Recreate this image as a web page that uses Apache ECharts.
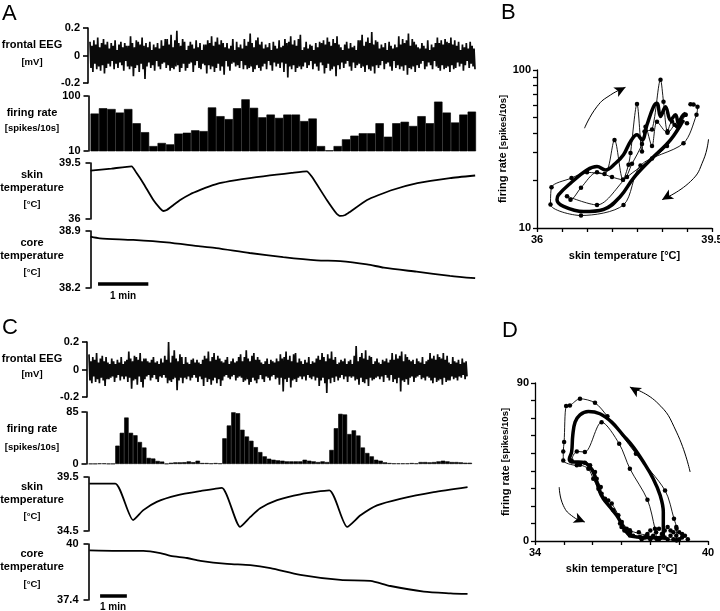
<!DOCTYPE html>
<html><head><meta charset="utf-8">
<script src="https://cdn.jsdelivr.net/npm/echarts@6/dist/echarts.min.js"></script>
<style>html,body{margin:0;padding:0;background:#fff}#c{width:720px;height:611px}</style>
</head><body><div id="c"></div>
<script>
// ---------- DATA ----------
const eegA = [
0.10,-0.09,0.07,-0.12,0.11,-0.06,0.08,-0.10,0.13,-0.08,0.06,-0.11,0.09,-0.07,0.12,-0.13,0.08,-0.09,0.10,-0.06,
0.05,-0.08,0.09,-0.04,0.07,-0.10,0.11,-0.06,0.04,-0.09,0.08,-0.05,0.10,-0.07,0.06,-0.11,0.09,-0.04,0.07,-0.08,
0.07,-0.10,0.14,-0.08,0.09,-0.15,0.06,-0.09,0.11,-0.07,0.10,-0.12,0.08,-0.06,0.13,-0.10,0.07,-0.17,0.09,-0.08,
0.06,-0.05,0.10,-0.09,0.04,-0.07,0.08,-0.11,0.06,-0.04,0.09,-0.08,0.05,-0.10,0.11,-0.06,0.07,-0.05,0.12,-0.09,
0.12,-0.07,0.08,-0.11,0.15,-0.09,0.06,-0.10,0.11,-0.08,0.18,-0.07,0.09,-0.12,0.07,-0.09,0.12,-0.06,0.10,-0.11,
0.04,-0.09,0.07,-0.06,0.10,-0.05,0.08,-0.12,0.05,-0.07,0.11,-0.04,0.06,-0.09,0.09,-0.10,0.04,-0.06,0.08,-0.07,
0.08,-0.13,0.11,-0.07,0.09,-0.10,0.14,-0.08,0.07,-0.12,0.10,-0.09,0.13,-0.06,0.08,-0.11,0.11,-0.08,0.09,-0.14,
0.06,-0.04,0.09,-0.08,0.05,-0.11,0.07,-0.06,0.12,-0.05,0.04,-0.08,0.10,-0.07,0.06,-0.09,0.08,-0.04,0.05,-0.10,
0.12,-0.07,0.07,-0.10,0.10,-0.09,0.16,-0.08,0.09,-0.12,0.06,-0.10,0.11,-0.07,0.13,-0.09,0.08,-0.11,0.10,-0.08,
0.05,-0.06,0.08,-0.10,0.06,-0.04,0.09,-0.07,0.04,-0.11,0.10,-0.05,0.07,-0.08,0.05,-0.06,0.11,-0.09,0.06,-0.05,
0.07,-0.12,0.12,-0.06,0.09,-0.16,0.10,-0.08,0.14,-0.10,0.08,-0.07,0.11,-0.12,0.07,-0.09,0.12,-0.08,0.15,-0.10,
0.04,-0.08,0.06,-0.05,0.10,-0.09,0.05,-0.07,0.08,-0.04,0.07,-0.10,0.04,-0.06,0.09,-0.08,0.06,-0.11,0.10,-0.05,
0.09,-0.07,0.11,-0.13,0.08,-0.09,0.13,-0.06,0.10,-0.11,0.07,-0.10,0.12,-0.08,0.09,-0.15,0.14,-0.07,0.08,-0.10,
0.06,-0.05,0.04,-0.09,0.08,-0.06,0.10,-0.04,0.05,-0.08,0.09,-0.11,0.06,-0.05,0.07,-0.09,0.04,-0.07,0.11,-0.06,
0.11,-0.09,0.15,-0.08,0.07,-0.12,0.10,-0.07,0.13,-0.10,0.09,-0.11,0.17,-0.08,0.08,-0.13,0.11,-0.07,0.10,-0.09,
0.05,-0.07,0.08,-0.04,0.06,-0.10,0.09,-0.06,0.04,-0.05,0.10,-0.08,0.07,-0.11,0.05,-0.04,0.08,-0.09,0.06,-0.07,
0.14,-0.10,0.08,-0.08,0.12,-0.11,0.09,-0.07,0.11,-0.14,0.16,-0.09,0.07,-0.10,0.12,-0.08,0.10,-0.12,0.08,-0.07,
0.06,-0.09,0.05,-0.06,0.09,-0.04,0.07,-0.10,0.05,-0.08,0.11,-0.05,0.04,-0.07,0.08,-0.10,0.06,-0.04,0.09,-0.08,
0.13,-0.09,0.09,-0.11,0.11,-0.07,0.08,-0.10,0.12,-0.09,0.10,-0.08,0.09,-0.12,0.13,-0.07,0.08,-0.10,0.11,-0.09,
0.07,-0.05,0.10,-0.08,0.04,-0.06,0.08,-0.11,0.06,-0.07,0.09,-0.04,0.05,-0.09,0.10,-0.06,0.07,-0.08,0.05,-0.10];
const eegC = [
0.11,-0.08,0.06,-0.10,0.09,-0.05,0.07,-0.09,0.12,-0.07,0.05,-0.10,0.08,-0.06,0.10,-0.08,0.06,-0.12,0.09,-0.07,
0.05,-0.07,0.04,-0.06,0.08,-0.05,0.06,-0.09,0.04,-0.06,0.07,-0.04,0.05,-0.08,0.09,-0.05,0.04,-0.07,0.06,-0.05,
0.07,-0.09,0.13,-0.06,0.08,-0.14,0.06,-0.08,0.10,-0.07,0.09,-0.11,0.07,-0.05,0.12,-0.09,0.06,-0.13,0.08,-0.07,
0.08,-0.05,0.06,-0.04,0.05,-0.08,0.07,-0.06,0.09,-0.04,0.05,-0.07,0.06,-0.09,0.04,-0.05,0.08,-0.06,0.05,-0.04,
0.10,-0.06,0.07,-0.10,0.20,-0.08,0.05,-0.09,0.10,-0.07,0.14,-0.06,0.08,-0.15,0.06,-0.08,0.11,-0.06,0.09,-0.10,
0.04,-0.06,0.09,-0.07,0.05,-0.05,0.04,-0.08,0.07,-0.06,0.08,-0.04,0.05,-0.06,0.07,-0.09,0.05,-0.05,0.04,-0.07,
0.07,-0.12,0.10,-0.06,0.08,-0.09,0.13,-0.07,0.06,-0.11,0.09,-0.08,0.12,-0.06,0.07,-0.10,0.10,-0.07,0.08,-0.12,
0.06,-0.08,0.05,-0.05,0.07,-0.04,0.09,-0.06,0.04,-0.07,0.06,-0.05,0.08,-0.04,0.05,-0.08,0.06,-0.06,0.09,-0.05,
0.11,-0.06,0.06,-0.09,0.09,-0.08,0.14,-0.07,0.08,-0.11,0.06,-0.09,0.10,-0.06,0.12,-0.08,0.07,-0.10,0.09,-0.07,
0.07,-0.04,0.05,-0.07,0.04,-0.09,0.06,-0.05,0.08,-0.06,0.04,-0.08,0.07,-0.05,0.06,-0.04,0.05,-0.07,0.08,-0.06,
0.06,-0.11,0.11,-0.06,0.08,-0.16,0.09,-0.07,0.13,-0.09,0.07,-0.06,0.10,-0.13,0.06,-0.08,0.11,-0.07,0.12,-0.09,
0.05,-0.06,0.08,-0.05,0.06,-0.07,0.04,-0.05,0.07,-0.08,0.05,-0.04,0.09,-0.06,0.04,-0.07,0.06,-0.05,0.05,-0.08,
0.08,-0.06,0.10,-0.12,0.07,-0.08,0.12,-0.06,0.09,-0.10,0.06,-0.17,0.11,-0.07,0.08,-0.10,0.13,-0.06,0.07,-0.09,
0.09,-0.05,0.04,-0.08,0.05,-0.06,0.07,-0.04,0.06,-0.07,0.08,-0.05,0.04,-0.09,0.06,-0.05,0.07,-0.06,0.04,-0.05,
0.10,-0.08,0.17,-0.07,0.06,-0.11,0.09,-0.06,0.12,-0.09,0.08,-0.10,0.14,-0.07,0.07,-0.12,0.10,-0.06,0.09,-0.08,
0.04,-0.07,0.06,-0.06,0.08,-0.05,0.05,-0.07,0.04,-0.05,0.07,-0.09,0.06,-0.04,0.08,-0.06,0.05,-0.08,0.07,-0.04,
0.12,-0.09,0.07,-0.07,0.11,-0.10,0.08,-0.06,0.10,-0.16,0.13,-0.08,0.06,-0.09,0.11,-0.07,0.09,-0.11,0.07,-0.06,
0.06,-0.05,0.07,-0.09,0.04,-0.06,0.08,-0.05,0.06,-0.04,0.05,-0.07,0.09,-0.06,0.04,-0.08,0.06,-0.05,0.07,-0.06,
0.12,-0.08,0.08,-0.10,0.10,-0.06,0.07,-0.09,0.11,-0.08,0.09,-0.07,0.08,-0.11,0.12,-0.06,0.07,-0.09,0.10,-0.08,
0.05,-0.08,0.04,-0.05,0.09,-0.07,0.06,-0.06,0.05,-0.08,0.07,-0.05,0.04,-0.06,0.08,-0.04,0.05,-0.07,0.06,-0.05];
// firing rate, 10 s bins (spikes/10s)
const rateA = [48,60,58,50,58,32,22,12.3,14,13.2,20.7,21.5,23.8,23,62,43,38,60,87,61,41,46,40,46,46,35,39,12.3,10.3,12.3,16.3,19,21,21,32,18.2,32,34,28.5,43,32,79,50,33,46,52];
const rateC = [0.5,0.5,1,1,0.5,0.5,30,51,76,51,47,36,27,10,9,5,4,0.5,2,2.7,
2.7,3,4.3,3,5.4,1.6,1.6,1,1.6,1,42,63,84.5,83,56,45,38,27.6,19.5,12.5,
8.7,7,6,5.4,4.3,4.3,4.3,4.3,7,5.4,4.3,3.2,4.3,3.2,23,58.5,82,81,49,55,
46.6,27,18,12.5,7,5.4,2.7,1.6,1,1,1,1,1.6,1,3.2,3.2,2.7,3.2,4.3,5.4,
4.3,3.2,3.2,2.7,2,2];
// [time s, °C]
const skinA = [[0,39.02],[25,39.15],[49,39.29],[55,38.87],[63,38.24],[75,37.19],[83,36.67],[87,36.5],[91,36.56],[99,36.88],[107,37.19],[119,37.55],[131,37.82],[142,38.04],[154,38.24],[172,38.42],[190,38.56],[206,38.67],[222,38.77],[240,38.88],[258,38.98],[264,38.65],[282,37.19],[294,36.31],[298,36.19],[304,36.25],[310,36.46],[330,37.19],[358,37.78],[390,38.24],[429,38.56],[459,38.72]];
const coreA = [[0,38.83],[11,38.81],[51,38.79],[91,38.76],[131,38.71],[150,38.69],[190,38.63],[230,38.58],[270,38.54],[298,38.53],[330,38.49],[350,38.45],[389,38.40],[429,38.35],[459,38.32]];
const skinC = [[2,38.89],[60,38.89],[100,35.51],[123,36.43],[153,37.2],[198,37.8],[251,38.2],[299,38.5],[340,34.88],[363,35.8],[385,36.6],[423,37.35],[475,37.9],[540,38.26],[580,34.88],[610,35.95],[647,36.87],[699,37.48],[774,38.1],[850,38.56]];
const coreC = [[2,39.70],[64,39.68],[123,39.68],[161,39.58],[184,39.45],[221,39.35],[251,39.22],[311,39.08],[363,39.02],[408,38.88],[475,38.57],[565,38.33],[632,38.29],[677,38.05],[752,37.79],[812,37.71],[850,37.68]];
const scaleBarA = [[9,38.25],[69,38.25]];
const scaleBarC = [[26,37.59],[86,37.59]];
// B: [skin °C, spikes/10s]
const bThick = [[38.93,48.3],[38.67,36.1],[38.27,27.0],[37.93,20.7],[37.67,15.9],[37.33,13.1],[36.93,12.7],[36.53,13.7],[36.4,15.1],[36.43,16.2],[36.67,19.2],[37.0,23.3],[37.2,24.5],[37.37,23.3],[37.57,25.7],[37.73,29.1],[37.87,35.3],[38.0,38.9],[38.1,36.1],[38.2,45],[38.33,58.6],[38.4,61.6],[38.47,50.8],[38.57,58.6],[38.67,48.3],[38.77,52],[38.83,46],[38.9,50.8],[38.97,53.2]];
const bThin1 = [[39.07,60.7],[39.13,60.5],[39.21,58.6],[39.19,52],[38.93,34.4],[38.07,24.9],[37.73,14.0],[36.88,12.0],[36.27,14.1],[36.29,18.1],[36.69,20.7],[37.0,22.5],[37.35,22],[37.55,36],[37.72,20.2],[37.83,25.1],[37.87,29.8],[38.0,61],[38.1,30.5],[38.15,40.8],[38.3,42],[38.47,86.6],[38.53,63],[38.61,41],[38.7,47.2],[38.8,44],[38.97,52]];
const bThin2 = [[38.97,52],[38.87,47],[38.6,33],[38.3,27.5],[37.8,21],[37.2,14.0],[36.6,15.9],[36.67,15.1],[36.88,18],[37.2,22.5],[37.5,21],[37.72,20.2],[37.9,25.5],[38.1,34],[38.17,43.8],[38.3,33],[38.4,47],[38.61,40],[38.75,45],[38.87,48],[39.0,46]];
const bArrowUp = [[36.95,42.8],[37.2,58.7],[37.47,69.5],[37.77,77.7]];
const bArrowDown = [[39.43,36.5],[39.33,27],[39.07,19.7],[38.5,15.1]];
// D
const dThick = [[38.45,1.3],[38.45,16.5],[38.34,26],[38.1,35.5],[37.76,45],[37.41,53.5],[37.06,60.2],[36.66,67.7],[36.25,72.5],[35.85,73.8],[35.56,71.9],[35.39,67.7],[35.31,60.2],[35.27,50.7],[35.19,46.5],[35.27,45],[35.5,45],[35.73,44.6],[35.9,42.1],[36.02,39.3],[36.14,33.6],[36.25,27.9],[36.37,24.1],[36.6,19.4],[36.83,14.6],[37.0,9.9],[37.12,6.1],[37.29,3.2],[37.53,2.3],[37.99,1.9],[38.45,1.9]];
const dThin1 = [[38.91,0.4],[38.91,7.0],[38.82,12.7],[38.51,28.8],[37.5,49.7],[36.51,71.0],[36.08,78.7],[35.56,81.0],[35.21,77.2],[35.08,76.9],[35.01,56.4],[34.98,51.0],[34.98,45.9],[35.45,43.1],[35.73,44.6],[35.91,43.1],[36.08,39.3],[36.14,35.5],[36.28,30.7],[36.31,26.9],[36.54,23.1],[36.66,21.3],[36.89,14.6],[36.95,9.9],[37.18,7.0],[37.29,3.2],[37.64,2.3],[38.22,1.3],[38.91,0.4]];
const dThin2 = [[38.22,1.3],[38.16,7.0],[37.9,23.5],[37.29,41.2],[36.92,55.4],[36.31,67.7],[35.73,50.7],[35.45,51.0],[35.27,45.9],[35.56,43.5],[35.85,41.2],[36.02,35.5],[36.2,29.8],[36.43,24.1],[36.72,17.5],[37.01,10.8],[37.29,6.1],[37.87,3.2],[38.34,1.9]];
const dCluster = [[37.0,8],[37.1,6],[37.3,5],[37.4,3],[37.6,5],[37.8,2],[37.9,4],[38.0,6],[38.1,3],[38.2,5],[38.3,7],[38.4,4],[38.5,2],[38.5,6],[38.6,8],[38.7,3],[38.7,6],[38.8,1],[38.8,5],[38.9,8],[38.9,3],[39.0,5],[39.0,1],[39.1,4],[39.1,2],[39.2,3],[39.3,1],[38.6,1],[38.3,1],[38.0,1],[37.7,1]];
const dArrowUp = [[39.38,39.3],[38.91,62],[38.22,79.1],[37.29,87.7]];
const dArrowDown = [[34.84,30.7],[34.98,20.3],[35.33,13.7],[35.73,10.8]];
// tick labels
const ticksEEG = [-0.2, 0, 0.2];
const ticksRateA = [10, 100];
const ticksSkinA = [36, 39.5];
const ticksCoreA = [38.2, 38.9];
const ticksRateC = [0, 85];
const ticksSkinC = [34.5, 39.5];
const ticksCoreC = [37.4, 40];
const ticksBx = [36, 39.5];
const ticksBxMinor = [36, 36.5, 37, 37.5, 38, 38.5, 39, 39.5];
const ticksBy = [10, 100];
const ticksByMinor = [10, 20, 30, 40, 50, 60, 70, 80, 90, 100];
const ticksDx = [34, 40];
const ticksDy = [0, 90];

// ---------- CHART ----------
const FONT = 'Liberation Sans, Arial, sans-serif';
const chart = echarts.init(document.getElementById('c'), null, {renderer: 'canvas'});
const fmt = v => String(Math.round(v * 100) / 100);

function grid(left, top, width, height) {
  return {left, top, width, height, outerBoundsMode: 'none', containLabel: false};
}
function yAx(gi, min, max, labels, type) {
  return {
    type: type || 'value', gridIndex: gi, min, max, offset: 2,
    axisLine: {show: true, lineStyle: {color: '#000', width: 1.6}},
    axisTick: {show: true, length: 5, customValues: labels, lineStyle: {color: '#000', width: 1.6}},
    axisLabel: {customValues: labels, color: '#000', fontWeight: 'bold', fontSize: 11, fontFamily: FONT, margin: 8, formatter: fmt},
    splitLine: {show: false}, minorTick: {show: false}
  };
}
function xHidden(gi, type, extra) {
  return Object.assign({type, gridIndex: gi, show: false, splitLine: {show: false}}, extra);
}
const scatterAxis = (gi, min, max, labels, minor, interval, type, name, nameGap, rot) => ({
  type: type || 'value', gridIndex: gi, min, max, interval,
  axisLine: {show: true, onZero: false, lineStyle: {color: '#000', width: 1.3}},
  axisTick: {show: true, length: 4, customValues: minor, lineStyle: {color: '#000', width: 1.3}},
  axisLabel: {customValues: labels, color: '#000', fontWeight: 'bold', fontSize: 11, fontFamily: FONT, margin: 6, formatter: fmt},
  splitLine: {show: false},
  name, nameLocation: 'middle', nameGap, nameRotate: rot,
  nameTextStyle: {color: '#000', fontWeight: 'bold', fontSize: 11, fontFamily: FONT,
    rich: {a: {fontWeight: 'bold', fontSize: 11, fontFamily: FONT, color: '#000'}, b: {fontWeight: 'bold', fontSize: 9.5, fontFamily: FONT, color: '#000'}}}
});

const line = (xi, yi, data, w, extra) => Object.assign({
  type: 'line', xAxisIndex: xi, yAxisIndex: yi, data, symbol: 'none', silent: true,
  lineStyle: {color: '#000', width: w}, itemStyle: {color: '#000'}
}, extra);

const dotLine = (xi, yi, data) => line(xi, yi, data, 0.9, {symbol: 'circle', symbolSize: 4.5, smooth: 0.3, showSymbol: true, itemStyle: {color: '#000', opacity: 1}});
const arrowHead = (xi, yi, pt, rot) => ({type: 'scatter', xAxisIndex: xi, yAxisIndex: yi, data: [pt], symbol: 'arrow', symbolSize: [8, 11], symbolRotate: rot, itemStyle: {color: '#000', opacity: 1}, silent: true});
const barSeries = (xi, yi, data) => ({type: 'bar', xAxisIndex: xi, yAxisIndex: yi, data, barCategoryGap: '0%', itemStyle: {color: '#000', borderColor: '#000', borderWidth: 0.6}, clip: true, silent: true});

const idxA = eegA.map((_, i) => i), idxC = eegC.map((_, i) => i);
const binA = rateA.map((_, i) => i), binC = rateC.map((_, i) => i);

const leftLabels = [
  ['frontal EEG', 45, 11], ['[mV]', 62, 9.5], ['firing rate', 113, 11], ['[spikes/10s]', 128, 9.5],
  ['skin', 175, 11], ['temperature', 188, 11], ['[°C]', 204, 9.5],
  ['core', 243, 11], ['temperature', 256, 11], ['[°C]', 272, 9.5],
  ['frontal EEG', 359, 11], ['[mV]', 374, 9.5], ['firing rate', 429, 11], ['[spikes/10s]', 447, 9.5],
  ['skin', 487, 11], ['temperature', 500, 11], ['[°C]', 516, 9.5],
  ['core', 554, 11], ['temperature', 567, 11], ['[°C]', 584, 9.5]
];
const graphics = leftLabels.map(([t, y, s]) => ({type: 'text', x: 32, y, style: {text: t, fill: '#000', font: 'bold ' + s + 'px ' + FONT, textAlign: 'center', textVerticalAlign: 'middle'}}));
[['A', 2, 3], ['B', 501, 2], ['C', 2, 317], ['D', 502, 320]].forEach(([t, x, y]) => graphics.push({type: 'text', x, y, style: {text: t, fill: '#000', font: '22px ' + FONT, textAlign: 'left', textVerticalAlign: 'top'}}));
[['1 min', 123, 296], ['1 min', 113, 607]].forEach(([t, x, y]) => graphics.push({type: 'text', x, y, style: {text: t, fill: '#000', font: 'bold 10px ' + FONT, textAlign: 'center', textVerticalAlign: 'middle'}}));

const option = {
  animation: false,
  backgroundColor: '#fff',
  grid: [
    grid(90, 28, 385, 55), grid(90.5, 96, 385.5, 55), grid(90.5, 163, 385.5, 56), grid(90.5, 231, 385.5, 57),
    grid(89, 342, 378, 55), grid(88.5, 412, 383.5, 52), grid(88.5, 477, 383.5, 54), grid(88.5, 544, 383.5, 56),
    grid(537, 70, 175, 158), grid(535, 383, 173, 158)
  ],
  xAxis: [
    xHidden(0, 'category', {data: idxA, boundaryGap: false}),
    xHidden(1, 'category', {data: binA, boundaryGap: true}),
    xHidden(2, 'value', {min: 0, max: 460}),
    xHidden(3, 'value', {min: 0, max: 460}),
    xHidden(4, 'category', {data: idxC, boundaryGap: false}),
    xHidden(5, 'category', {data: binC, boundaryGap: true}),
    xHidden(6, 'value', {min: 0, max: 860}),
    xHidden(7, 'value', {min: 0, max: 860}),
    scatterAxis(8, 36, 39.5, ticksBx, ticksBxMinor, 0.5, 'value', 'skin temperature [°C]', 22, 0),
    scatterAxis(9, 34, 40, ticksDx, null, 1, 'value', 'skin temperature [°C]', 22, 0)
  ],
  yAxis: [
    yAx(0, -0.2, 0.2, ticksEEG),
    yAx(1, 10, 100, ticksRateA, 'log'),
    yAx(2, 36, 39.5, ticksSkinA),
    yAx(3, 38.2, 38.9, ticksCoreA),
    yAx(4, -0.2, 0.2, ticksEEG),
    yAx(5, 0, 85, ticksRateC),
    yAx(6, 34.5, 39.5, ticksSkinC),
    yAx(7, 37.4, 40, ticksCoreC),
    Object.assign(scatterAxis(8, 10, 100, ticksBy, ticksByMinor, undefined, 'log', '{a|firing rate} {b|[spikes/10s]}', 24, 90), {logBase: 10}),
    scatterAxis(9, 0, 90, ticksDy, null, 10, 'value', '{a|firing rate} {b|[spikes/10s]}', 24, 90)
  ],
  graphic: graphics,
  series: [
    line(0, 0, eegA, 1.7, {lineStyle: {color: '#0a0a0a', width: 1.7}}),
    barSeries(1, 1, rateA),
    line(2, 2, skinA, 1.8, {smooth: 0.15}),
    line(3, 3, coreA, 1.8, {smooth: 0.25}),
    line(3, 3, scaleBarA, 3.5),
    line(4, 4, eegC, 1.7, {lineStyle: {color: '#0a0a0a', width: 1.7}}),
    barSeries(5, 5, rateC),
    line(6, 6, skinC, 1.8, {smooth: 0.2}),
    line(7, 7, coreC, 1.8, {smooth: 0.25}),
    line(7, 7, scaleBarC, 3.5),
    // B
    dotLine(8, 8, bThin1),
    dotLine(8, 8, bThin2),
    line(8, 8, bThick, 3.5, {smooth: 0.4}),
    line(8, 8, bArrowUp, 1, {smooth: true}),
    line(8, 8, bArrowDown, 1, {smooth: true}),
    arrowHead(8, 8, bArrowUp[bArrowUp.length - 1], -63),
    arrowHead(8, 8, bArrowDown[bArrowDown.length - 1], 120),
    // D
    dotLine(9, 9, dThin1),
    dotLine(9, 9, dThin2),
    {type: 'scatter', xAxisIndex: 9, yAxisIndex: 9, data: dCluster, symbol: 'circle', symbolSize: 4.5, itemStyle: {color: '#000', opacity: 1}, silent: true},
    line(9, 9, dThick, 3.5, {smooth: 0.4}),
    line(9, 9, dArrowUp, 1, {smooth: true}),
    line(9, 9, dArrowDown, 1, {smooth: true}),
    arrowHead(9, 9, dArrowUp[dArrowUp.length - 1], 60),
    arrowHead(9, 9, dArrowDown[dArrowDown.length - 1], -113)
  ]
};
chart.setOption(option);
</script></body></html>
